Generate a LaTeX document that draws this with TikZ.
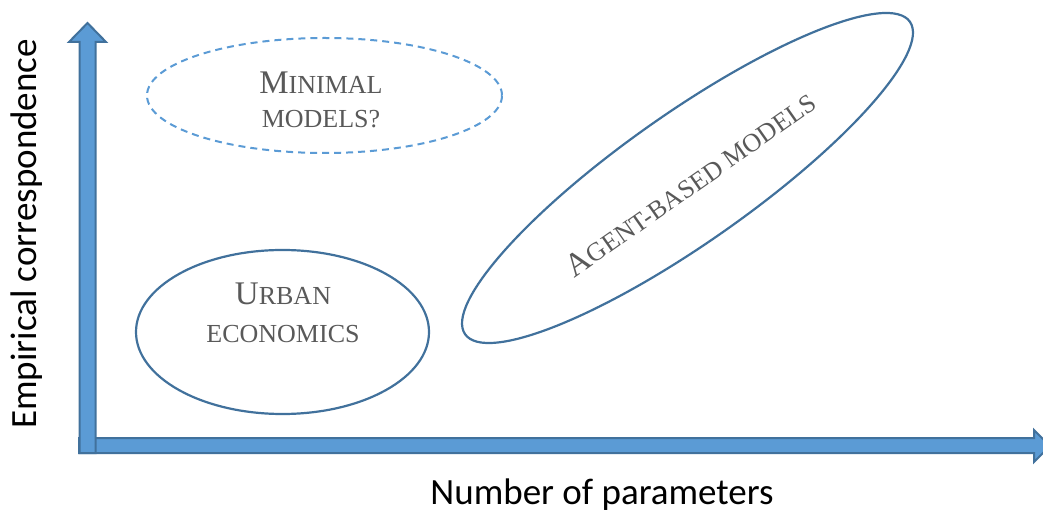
\documentclass[tikz,border=0pt]{standalone}
\usepackage{fontspec}
\setmainfont{Liberation Serif}
\newfontfamily\axisfont{Carlito}
\definecolor{arrowfill}{HTML}{5B9BD5}
\definecolor{arrowline}{HTML}{41719C}
\definecolor{labelgray}{HTML}{595959}
\newcommand{\smallcap}[1]{{\fontsize{26}{30}\selectfont #1}}

\begin{document}
\begin{tikzpicture}[x=1pt, y=1pt,
    axisarrow/.style={fill=arrowfill, draw=arrowline, line width=2pt, line join=miter},
    modelshape/.style={draw=arrowline, line width=2.2pt},
    modeltext/.style={text=labelgray, font=\fontsize{33}{38}\selectfont, align=center},
    axistext/.style={font=\axisfont\fontsize{37}{40}\selectfont}]
    \useasboundingbox (0,0) rectangle (1043,514);

    % Horizontal axis
    \draw[axisarrow] (79,76) -- (1034,76) -- (1034,84) -- (1050,68)
        -- (1034,52) -- (1034,61) -- (79,61) -- cycle;
    % Vertical axis
    \draw[axisarrow] (79.5,61) -- (79.5,472) -- (69,472) -- (87.5,491)
        -- (106,472) -- (95.5,472) -- (95.5,61) -- cycle;

    % Axis titles
    \node[axistext] (xtitle) at (602,19) {Number of parameters};
    \node[axistext, rotate=90] (ytitle) at (27,280) {Empirical correspondence};

    % Model families
    \draw[arrowfill, line width=2pt, dash pattern=on 7pt off 5pt]
        (324.5,418.5) ellipse (177.5 and 57.5);
    \node[modeltext, font=\fontsize{33}{34}\selectfont] (minimal) at (321,414)
        {M\smallcap{INIMAL}\\\smallcap{MODELS?}};

    \draw[modelshape] (282.5,182) ellipse (146.5 and 82);
    \node[modeltext] (urban) at (283,201) {U\smallcap{RBAN}\\\smallcap{ECONOMICS}};

    \draw[modelshape, rotate around={35.1:(687.5,336)}] (687.5,336) ellipse (271.8 and 64.6);
    \node[modeltext, rotate=35.1] (agent) at (690,330) {A\smallcap{GENT-BASED MODELS}};
\end{tikzpicture}
\end{document}
